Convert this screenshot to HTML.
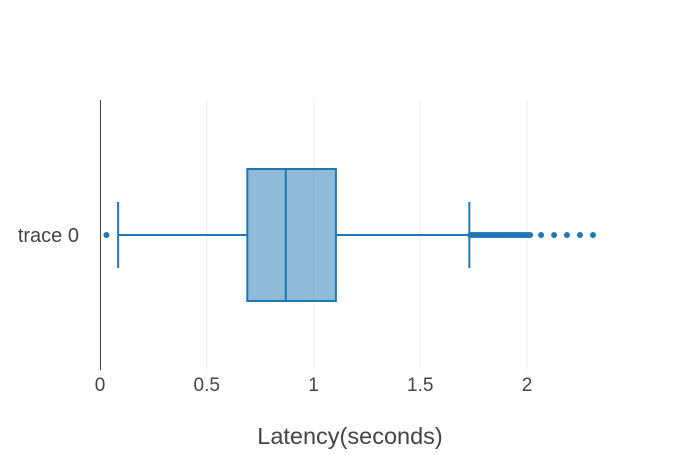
<!DOCTYPE html>
<html><head><meta charset="utf-8"><style>
body{margin:0;background:#fff}
svg{font-family:"Liberation Sans",sans-serif}
</style></head><body>
<svg id="c" width="700" height="450"></svg>
<script>
const categories=["trace 0"];
const q1=[0.69];
const median=[0.87];
const q3=[1.105];
const lowerFence=[0.085];
const upperFence=[1.73];
const outliers=[0.03,1.735,1.745,1.755,1.765,1.775,1.785,1.795,1.805,1.815,1.825,1.835,1.845,1.855,1.865,1.875,1.885,1.895,1.905,1.915,1.925,1.935,1.945,1.955,1.965,1.975,1.985,1.995,2.005,2.015,2.066,2.127,2.187,2.248,2.309];
const xTicks=[0,0.5,1,1.5,2];
const xTickLabels=["0","0.5","1","1.5","2"];
const NS="http://www.w3.org/2000/svg";
const svg=document.getElementById('c');
const x=v=>100+v*213.5;
const yc=235, half=66;
function mk(t,a,p){const e=document.createElementNS(NS,t);for(const k in a)e.setAttribute(k,a[k]);(p||svg).appendChild(e);return e;}
xTicks.forEach((t,i)=>{
  if(t>0){const g=mk('line',{x1:x(t),x2:x(t),y1:100,y2:370,stroke:'#eee','stroke-width':1});
  
  }
  const l=mk('text',{x:x(t),y:391,'text-anchor':'middle','font-size':19,fill:'#444'});l.textContent=xTickLabels[i];
  
  
});
const ax=mk('line',{x1:100.5,x2:100.5,y1:100,y2:370,stroke:'#444','stroke-width':1});


categories.forEach((c,i)=>{
  const l=mk('text',{x:79,y:yc+7,'text-anchor':'end','font-size':20,fill:'#444'});l.textContent=c;
  
  
  const col='#1f77b4';
  const w1=mk('line',{x1:x(lowerFence[i]),x2:x(q1[i]),y1:yc,y2:yc,stroke:col,'stroke-width':2});
  
  
  const w2=mk('line',{x1:x(q3[i]),x2:x(upperFence[i]),y1:yc,y2:yc,stroke:col,'stroke-width':2});
  
  
  [lowerFence[i],upperFence[i]].forEach(v=>{const cap=mk('line',{x1:x(v),x2:x(v),y1:yc-33,y2:yc+33,stroke:col,'stroke-width':2});
  
  });
  const b=mk('rect',{x:x(q1[i]),y:yc-half,width:x(q3[i])-x(q1[i]),height:2*half,fill:'rgba(31,119,180,0.5)',stroke:col,'stroke-width':2});
  
  
  const m=mk('line',{x1:x(median[i]),x2:x(median[i]),y1:yc-half,y2:yc+half,stroke:col,'stroke-width':2});
  
  
  outliers.forEach(v=>{const p=mk('circle',{cx:x(v),cy:yc,r:3,fill:col});
  
  });
});
const t=mk('text',{x:350,y:444,'text-anchor':'middle','font-size':23.5,fill:'#444'});t.textContent='Latency(seconds)';


</script>
</body></html>
